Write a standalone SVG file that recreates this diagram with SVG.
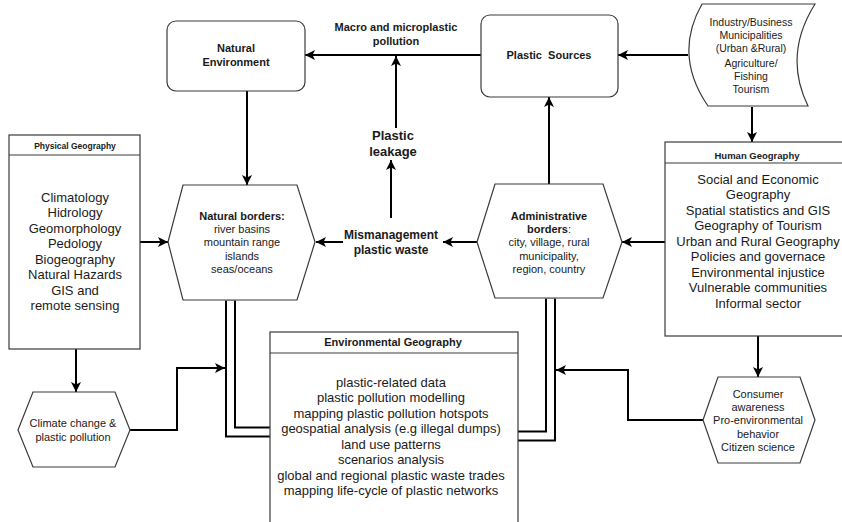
<svg xmlns="http://www.w3.org/2000/svg" width="842" height="522" viewBox="0 0 842 522">
<defs>
<marker id="arr" viewBox="0 0 10 10" refX="10" refY="5" markerWidth="10" markerHeight="10" markerUnits="userSpaceOnUse" orient="auto">
<path d="M0,0 L10,5 L0,10 L2.5,5 Z" fill="#000"/>
</marker>
<style>
.shape{fill:#fff;stroke:#3a3a3a;stroke-width:1.2}
.hdr{stroke:#3a3a3a;stroke-width:1.2}
.con{fill:none;stroke:#000;stroke-width:2}
.arr{marker-end:url(#arr)}
.dbo{fill:none;stroke:#000;stroke-width:11}
.dbi{fill:none;stroke:#fff;stroke-width:7}
text{font-family:"Liberation Sans",Arial,sans-serif;fill:#1a1a1a;text-anchor:middle}
.b{font-weight:bold}
.s11{font-size:11px}
.s13{font-size:13px}
</style>
</defs>
<rect width="842" height="522" fill="#fff"/>

<g id="connectors">
<path class="dbo" d="M230.5,300.5 L230.5,432 L270,432"/>
<path class="dbi" d="M230.5,300.5 L230.5,432 L270,432"/>
<path class="dbo" d="M550.5,298.5 L550.5,436 L518,436"/>
<path class="dbi" d="M550.5,298.5 L550.5,436 L518,436"/>
<path class="con arr" d="M481,55 L305,55"/>
<path class="con arr" d="M396,128 L396,56"/>
<path class="con arr" d="M391,218 L391,160"/>
<path class="con arr" d="M477,242 L443,242"/>
<path class="con arr" d="M343,242 L316,242"/>
<path class="con arr" d="M247,91 L247,185"/>
<path class="con arr" d="M140,242 L168,242"/>
<path class="con arr" d="M549,184 L549,97"/>
<path class="con arr" d="M688,55 L618,55"/>
<path class="con arr" d="M752,107 L752,142"/>
<path class="con arr" d="M665,242 L622,242"/>
<path class="con arr" d="M758,336 L758,377"/>
<path class="con arr" d="M703,420 L628,420 L628,370 L556,370"/>
<path class="con arr" d="M76,349 L76,392"/>
<path class="con arr" d="M130,430 L177,430 L177,368 L225,368"/>
<text class="b s11" x="396" y="31">Macro and microplastic</text>
<text class="b s11" x="396" y="45">pollution</text>
</g>

<g id="natural-environment">
<rect class="shape" x="167" y="21" width="138" height="70" rx="9"/>
<text class="b s11" x="236" y="52">Natural</text>
<text class="b s11" x="236" y="66">Environment</text>
</g>

<g id="plastic-sources">
<rect class="shape" x="481" y="15" width="137" height="82" rx="9"/>
<text class="b s11" x="549" y="59" xml:space="preserve">Plastic  Sources</text>
</g>

<g id="sources-list">
<path class="shape" d="M702,4 L815,4 Q783,55 808,106 L708,106 Q673,55 702,4 Z"/>
<g font-size="10.5">
<text x="751" y="26">Industry/Business</text>
<text x="751" y="39">Municipalities</text>
<text x="751" y="52">(Urban &amp;Rural)</text>
<text x="751" y="67">Agriculture/</text>
<text x="751" y="80">Fishing</text>
<text x="751" y="93">Tourism</text>
</g>
</g>

<g id="plastic-leakage">
<text class="b s13" x="393" y="140">Plastic</text>
<text class="b s13" x="393" y="156">leakage</text>
</g>

<g id="mismanagement">
<text class="b" font-size="12" x="391" y="239">Mismanagement</text>
<text class="b" font-size="12" x="391" y="254">plastic waste</text>
</g>

<g id="physical-geography">
<rect class="shape" x="9" y="135" width="131" height="214"/>
<line class="hdr" x1="9" y1="155" x2="140" y2="155"/>
<text class="b" font-size="8.5" x="75" y="149">Physical Geography</text>
<g class="s13">
<text x="75" y="201.5">Climatology</text>
<text x="75" y="217">Hidrology</text>
<text x="75" y="232.5">Geomorphology</text>
<text x="75" y="248">Pedology</text>
<text x="75" y="263.5">Biogeography</text>
<text x="75" y="279">Natural Hazards</text>
<text x="75" y="294.5">GIS and</text>
<text x="75" y="310">remote sensing</text>
</g>
</g>

<g id="natural-borders">
<polygon class="shape" points="168,242 183,185 297,185 315,242 297,300 183,300"/>
<g class="s11">
<text class="b" x="242" y="220">Natural borders:</text>
<text x="242" y="233">river basins</text>
<text x="242" y="246">mountain range</text>
<text x="242" y="260">islands</text>
<text x="242" y="273">seas/oceans</text>
</g>
</g>

<g id="administrative-borders">
<polygon class="shape" points="477,242 495,184 603,184 622,242 603,298 495,298"/>
<g class="s11">
<text class="b" x="549" y="220">Administrative</text>
<text x="549" y="233"><tspan font-weight="bold">borders</tspan>:</text>
<text x="549" y="246">city, village, rural</text>
<text x="549" y="260">municipality,</text>
<text x="549" y="273">region, country</text>
</g>
</g>

<g id="human-geography">
<rect class="shape" x="665" y="142" width="186" height="194"/>
<line class="hdr" x1="665" y1="163" x2="851" y2="163"/>
<text class="b" font-size="9.5" x="757" y="158.5">Human Geography</text>
<g class="s13">
<text x="758" y="183.5">Social and Economic</text>
<text x="758" y="199">Geography</text>
<text x="758" y="214.5">Spatial statistics and GIS</text>
<text x="758" y="230">Geography of Tourism</text>
<text x="758" y="245.5">Urban and Rural Geography</text>
<text x="758" y="261">Policies and governace</text>
<text x="758" y="276.5">Environmental injustice</text>
<text x="758" y="292">Vulnerable communities</text>
<text x="758" y="307.5">Informal sector</text>
</g>
</g>

<g id="climate-change">
<polygon class="shape" points="18,430 33,392 115,392 130,430 115,467 33,467"/>
<text class="s11" x="73" y="427">Climate change &amp;</text>
<text class="s11" x="73" y="441">plastic pollution</text>
</g>

<g id="consumer">
<polygon class="shape" points="703,420 718,377 800,377 815,420 800,463 718,463"/>
<g class="s11">
<text x="758" y="398">Consumer</text>
<text x="758" y="411">awareness</text>
<text x="758" y="424">Pro-environmental</text>
<text x="758" y="438">behavior</text>
<text x="758" y="451">Citizen science</text>
</g>
</g>

<g id="environmental-geography">
<rect class="shape" x="270" y="332" width="248" height="195"/>
<line class="hdr" x1="270" y1="353" x2="518" y2="353"/>
<text class="b s11" x="393" y="346">Environmental Geography</text>
<g class="s13">
<text x="391" y="386.5">plastic-related data</text>
<text x="391" y="402">plastic pollution modelling</text>
<text x="391" y="417.5">mapping plastic pollution hotspots</text>
<text x="391" y="433">geospatial analysis (e.g illegal dumps)</text>
<text x="391" y="448.5">land use patterns</text>
<text x="391" y="464">scenarios analysis</text>
<text x="391" y="479.5">global and regional plastic waste trades</text>
<text x="391" y="495">mapping life-cycle of plastic networks</text>
</g>
</g>
</svg>
